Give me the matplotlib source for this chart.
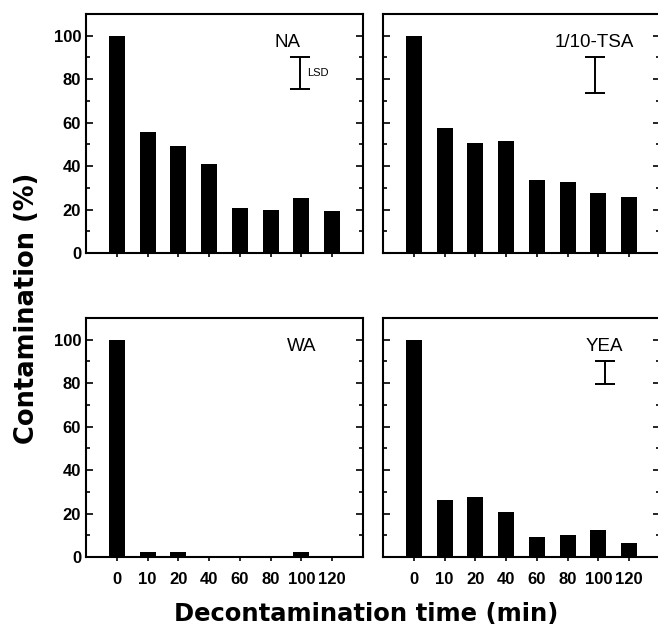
import matplotlib
matplotlib.use("Agg")
import matplotlib.pyplot as plt
import numpy as np
from matplotlib.ticker import MultipleLocator

plt.rcParams['font.family'] = ['Liberation Sans', 'DejaVu Sans']

times = ['0', '10', '20', '40', '60', '80', '100', '120']

na = [100, 55.7, 49.2, 40.9, 20.9, 19.7, 25.4, 19.4]
tsa = [100, 57.7, 50.8, 51.4, 33.5, 32.5, 27.4, 26.0]
wa = [100, 2.2, 2.2, 0, 0, 0, 2.2, 0]
yea = [100, 26.2, 27.5, 20.8, 9.2, 10.3, 12.6, 6.5]

titles = ['NA', '1/10-TSA', 'WA', 'YEA']
# LSD bar (low, high), None when absent
lsd = [(75.5, 90), (73.7, 90), None, (79.7, 90.2)]

fig = plt.figure(figsize=(6.58, 6.37), dpi=100)
W, H = 658, 637
boxes = [(86, 14), (383, 14), (86, 318), (383, 318)]
pw, ph = 277, 239

series = [na, tsa, wa, yea]
label_x = [5.55, 5.85, 6.0, 6.2]
lsd_x = [5.95, 5.9, None, 6.2]

x = np.arange(len(times))
for i, (vals, (left, top)) in enumerate(zip(series, boxes)):
    ax = fig.add_axes([left / W, 1 - (top + ph) / H, pw / W, ph / H])
    ax.bar(x, vals, width=0.52, color='black')
    ax.set_xlim(-1, 8)
    ax.set_ylim(0, 110)
    ax.set_xticks(x)
    ax.yaxis.set_minor_locator(MultipleLocator(10))
    ax.set_yticks([0, 20, 40, 60, 80, 100])
    ax.tick_params(axis='y', which='both', direction='in', left=True, right=True,
                   width=1.2, labelsize=12)
    ax.tick_params(axis='y', which='major', length=5)
    ax.tick_params(axis='y', which='minor', length=3)
    ax.tick_params(axis='x', direction='out', length=3, width=1.2, labelsize=12, pad=8)
    for s in ax.spines.values():
        s.set_linewidth(1.5)
    if i in (0, 2):
        ax.set_yticklabels(['0', '20', '40', '60', '80', '100'], fontweight='bold')
    else:
        ax.set_yticklabels([])
    if i in (2, 3):
        ax.set_xticklabels(times, fontweight='bold')
    else:
        ax.set_xticklabels([])
    ax.text(label_x[i], 97, titles[i], ha='center', va='center', fontsize=13.5)
    if lsd[i] is not None:
        lo, hi = lsd[i]
        ax.errorbar([lsd_x[i]], [(lo + hi) / 2], yerr=[[(hi - lo) / 2]], fmt='none',
                    ecolor='black', elinewidth=1.4, capsize=7, capthick=1.4)
    if i == 0:
        ax.text(lsd_x[i] + 0.22, 83, 'LSD', ha='left', va='center', fontsize=8)

fig.text(27 / W, 1 - 308 / H, 'Contamination (%)', rotation=90, ha='center', va='center',
         fontsize=18.5, fontweight='bold', family='DejaVu Sans')
fig.text(366 / W, 1 - 614 / H, 'Decontamination time (min)', ha='center', va='center',
         fontsize=17.5, fontweight='bold', family='DejaVu Sans')

fig.savefig('out.png', dpi=100)
